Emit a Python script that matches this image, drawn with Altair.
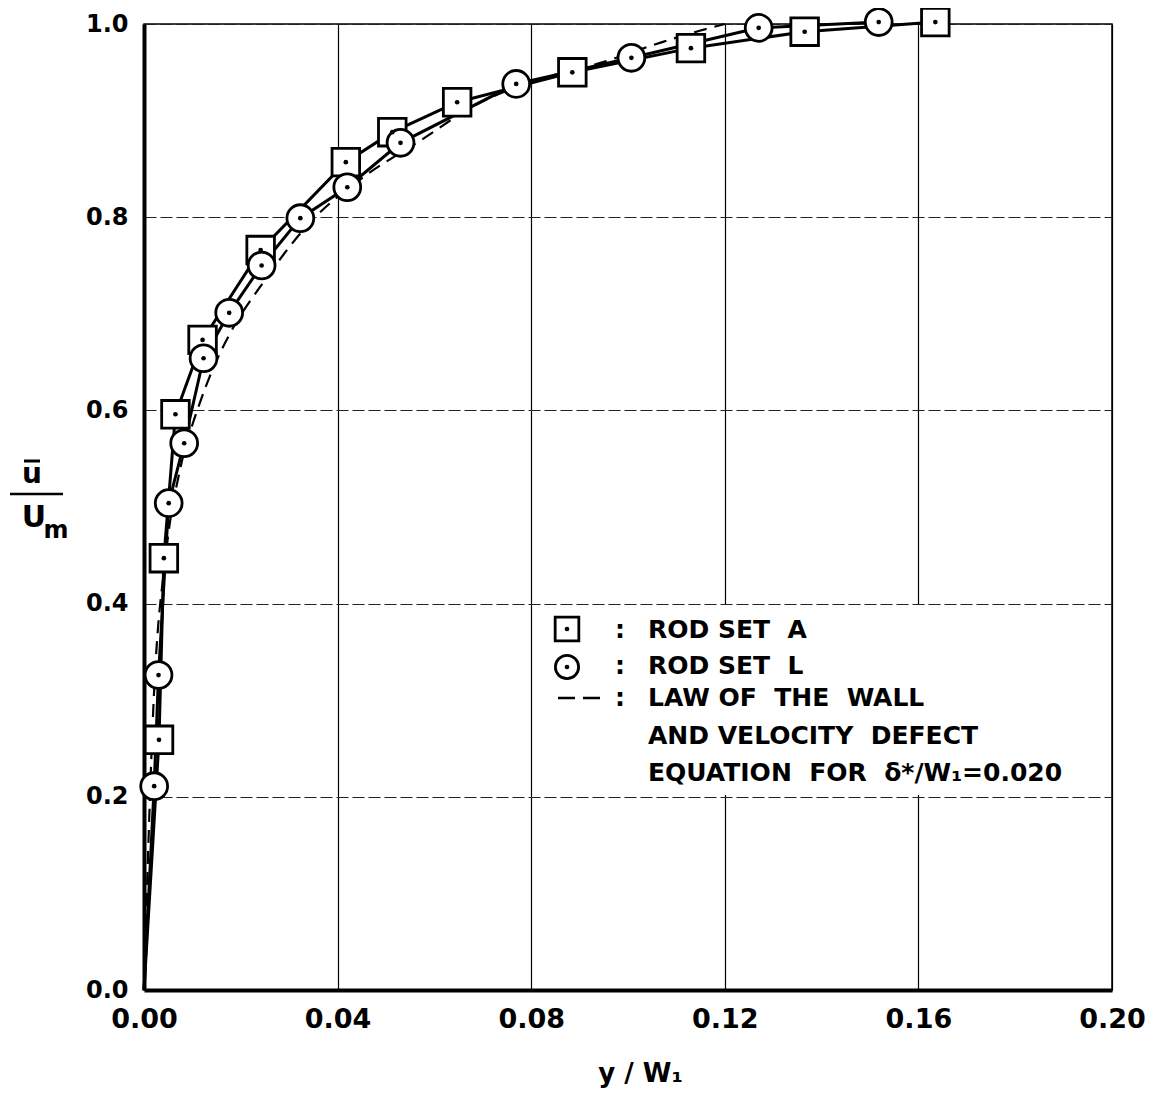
import altair as alt
import pandas as pd

# ---- data ----
sq_x = [0.0031, 0.0041, 0.0065, 0.0121, 0.0241, 0.0417, 0.0513, 0.0647, 0.0885, 0.1130, 0.1365, 0.1635]
sq_y = [0.259, 0.447, 0.596, 0.673, 0.766, 0.857, 0.888, 0.919, 0.950, 0.975, 0.992, 1.002]

ci_x = [0.0021, 0.0030, 0.0051, 0.0083, 0.0123, 0.0176, 0.0243, 0.0323, 0.0420, 0.0530, 0.0769, 0.1007, 0.1270, 0.1518]
ci_y = [0.211, 0.326, 0.504, 0.566, 0.654, 0.701, 0.750, 0.799, 0.831, 0.877, 0.938, 0.965, 0.996, 1.002]

law_x = [0.0, 0.0020, 0.0045, 0.0075, 0.0098, 0.0112, 0.0144, 0.0176, 0.0250, 0.0344, 0.0452, 0.0570, 0.0688, 0.0800, 0.0945, 0.1069, 0.1148, 0.1200]
law_y = [0.0, 0.300, 0.450, 0.540, 0.582, 0.603, 0.645, 0.678, 0.735, 0.795, 0.841, 0.879, 0.917, 0.940, 0.960, 0.981, 0.993, 1.000]

origin = [0.0, 0.0]  # measured curves start at the wall

x_ticks = [0.0, 0.04, 0.08, 0.12, 0.16, 0.20]
y_ticks = [0.0, 0.2, 0.4, 0.6, 0.8, 1.0]

legend_lines = [
    "ROD SET\u00a0\u00a0A",
    "ROD SET\u00a0\u00a0L",
    "LAW OF\u00a0\u00a0THE\u00a0\u00a0WALL",
    "AND VELOCITY\u00a0\u00a0DEFECT",
    "EQUATION\u00a0\u00a0FOR\u00a0\u00a0\u03b4*/W\u2081=0.020",
]

# ---- frames ----
sq_df = pd.DataFrame({"x": sq_x, "y": sq_y})
ci_df = pd.DataFrame({"x": ci_x, "y": ci_y})
sq_line = pd.DataFrame({"x": [origin[0]] + sq_x, "y": [origin[1]] + sq_y})
ci_line = pd.DataFrame({"x": [origin[0]] + ci_x, "y": [origin[1]] + ci_y})
law_df = pd.DataFrame({"x": law_x, "y": law_y})
one = pd.DataFrame({"a": [0]})

W, H = 968, 966
FONT = "DejaVu Sans"

xs = alt.Scale(domain=[0, 0.2], nice=False, zero=False)
ys = alt.Scale(domain=[0, 1.0], nice=False)

x_axis = alt.Axis(values=x_ticks, format=".2f", labelFont=FONT, labelFontWeight="bold",
                  labelFontSize=27, labelColor="black", labelPadding=16, tickSize=0,
                  domainColor="black", domainWidth=4, grid=True, gridColor="black",
                  gridWidth=1.2, title="y / W\u2081", titleFont=FONT, titleFontWeight="bold",
                  titleFontSize=26, titleColor="black", titleX=496, titleY=83,
                  titleBaseline="middle", titleAlign="center", labelFlush=False)
y_axis = alt.Axis(values=y_ticks, format=".1f", labelFont=FONT, labelFontWeight="bold",
                  labelFontSize=24, labelColor="black", labelPadding=16, tickSize=0,
                  domainColor="black", domainWidth=4, grid=True, gridColor="#222222",
                  gridWidth=1.2, gridDash=[12, 4], title=None, labelFlush=False)

X = alt.X("x:Q", scale=xs, axis=x_axis)
Y = alt.Y("y:Q", scale=ys, axis=y_axis)
Xn = alt.X("x:Q", scale=xs)
Yn = alt.Y("y:Q", scale=ys)

# white box behind the in-plot legend
legend_box = alt.Chart(one).mark_rect(fill="white").encode(
    x=alt.value(392), x2=alt.value(966), y=alt.value(581), y2=alt.value(771))

law = alt.Chart(law_df).mark_line(color="black", strokeWidth=2.2, strokeDash=[13, 8],
                                  interpolate="monotone").encode(x=X, y=Y)
sq_l = alt.Chart(sq_line).mark_line(color="black", strokeWidth=3).encode(x=Xn, y=Yn)
ci_l = alt.Chart(ci_line).mark_line(color="black", strokeWidth=3).encode(x=Xn, y=Yn)

sq_p = alt.Chart(sq_df).mark_point(shape="square", size=760, filled=True, fill="white",
                                   stroke="black", strokeWidth=2.8, opacity=1).encode(x=Xn, y=Yn)
ci_p = alt.Chart(ci_df).mark_point(shape="circle", size=720, filled=True, fill="white",
                                   stroke="black", strokeWidth=2.8, opacity=1).encode(x=Xn, y=Yn)
sq_d = alt.Chart(sq_df).mark_point(shape="circle", size=22, filled=True, color="black",
                                   opacity=1).encode(x=Xn, y=Yn)
ci_d = alt.Chart(ci_df).mark_point(shape="circle", size=22, filled=True, color="black",
                                   opacity=1).encode(x=Xn, y=Yn)

# legend symbols
lg_sq = alt.Chart(one).mark_point(shape="square", size=560, filled=True, fill="white",
                                  stroke="black", strokeWidth=2.8, opacity=1).encode(
    x=alt.value(423), y=alt.value(605))
lg_ci = alt.Chart(one).mark_point(shape="circle", size=540, filled=True, fill="white",
                                  stroke="black", strokeWidth=2.8, opacity=1).encode(
    x=alt.value(423), y=alt.value(643))
lg_d1 = alt.Chart(one).mark_point(shape="circle", size=22, filled=True, color="black",
                                  opacity=1).encode(x=alt.value(423), y=alt.value(605))
lg_d2 = alt.Chart(one).mark_point(shape="circle", size=22, filled=True, color="black",
                                  opacity=1).encode(x=alt.value(423), y=alt.value(643))
lg_dash = alt.Chart(one).mark_rule(color="black", strokeWidth=2.6, strokeDash=[17, 8]).encode(
    x=alt.value(414), x2=alt.value(456), y=alt.value(674))

row_y = [606, 642, 674, 712, 749]
texts = []
for lbl, ry in zip(legend_lines, row_y):
    texts.append(alt.Chart(one).mark_text(text=lbl, font=FONT, fontWeight="bold", fontSize=25,
                                          align="left", baseline="middle", color="black").encode(
        x=alt.value(504), y=alt.value(ry)))
for ry in row_y[:3]:
    texts.append(alt.Chart(one).mark_text(text=":", font=FONT, fontWeight="bold", fontSize=25,
                                          align="center", baseline="middle", color="black").encode(
        x=alt.value(476), y=alt.value(ry)))

# y-axis title as a fraction  u-bar / U_m
ytitle = [
    alt.Chart(one).mark_text(text="u", font=FONT, fontWeight="bold", fontSize=28, align="center",
                             baseline="alphabetic", color="black").encode(
        x=alt.value(-112), y=alt.value(459)),
    alt.Chart(one).mark_rule(color="black", strokeWidth=3).encode(
        x=alt.value(-120), x2=alt.value(-104), y=alt.value(437)),
    alt.Chart(one).mark_rule(color="black", strokeWidth=2.5).encode(
        x=alt.value(-134), x2=alt.value(-81), y=alt.value(470)),
    alt.Chart(one).mark_text(text="U", font=FONT, fontWeight="bold", fontSize=30, align="center",
                             baseline="alphabetic", color="black").encode(
        x=alt.value(-110), y=alt.value(503)),
    alt.Chart(one).mark_text(text="m", font=FONT, fontWeight="bold", fontSize=24, align="center",
                             baseline="alphabetic", color="black").encode(
        x=alt.value(-88), y=alt.value(514)),
]

chart = alt.layer(
    law, legend_box, sq_l, ci_l, sq_p, ci_p, sq_d, ci_d,
    lg_sq, lg_ci, lg_d1, lg_d2, lg_dash, *texts, *ytitle
).properties(
    width=W, height=H,
    autosize=alt.AutoSizeParams(type="none"),
    padding={"left": 136, "top": 16, "right": 36, "bottom": 100},
    background="white",
).configure_view(stroke="black", strokeWidth=1.5)

chart.save("out.html", embed_options={"renderer": "svg", "actions": False})
